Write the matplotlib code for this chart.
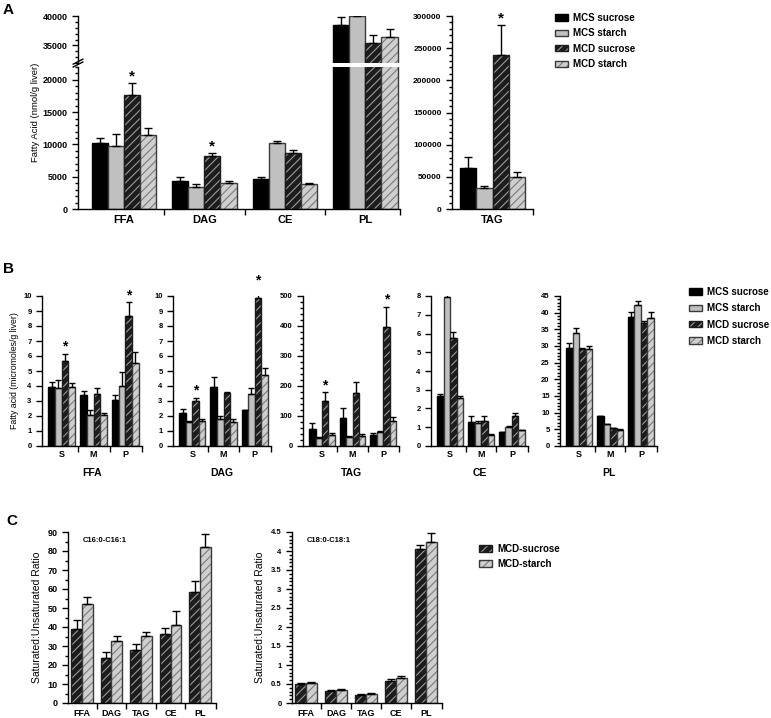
import numpy as np
import matplotlib
matplotlib.use('agg')
import matplotlib.pyplot as plt
from matplotlib.patches import Patch
from matplotlib.ticker import MultipleLocator

plt.rcParams['font.family'] = ['Liberation Sans', 'DejaVu Sans']
plt.rcParams['hatch.linewidth'] = 0.8

W, H = 771, 718

SERIES = ['MCS sucrose', 'MCS starch', 'MCD sucrose', 'MCD starch']
# face, hatch colour, hatch, outline
STYLE = [('#000000', '#000000', '', '#000000'),
         ('#c0c0c0', '#c0c0c0', '', '#3a3a3a'),
         ('#1c1c1c', '#9a9a9a', '////', '#1c1c1c'),
         ('#cfcfcf', '#7a7a7a', '////', '#3a3a3a')]

# ---- panel A: totals (nmol/g liver), rows = series
a_groups = ['FFA', 'DAG', 'CE', 'PL']
a_vals = [[10300, 4300, 4650, 38500],
          [9800, 3350, 10150, 40000],
          [17700, 8200, 8650, 35400],
          [11400, 4000, 3850, 36350]]
a_err = [[750, 600, 350, 1300],
         [1850, 550, 350, 1000],
         [1800, 450, 450, 1400],
         [1200, 300, 250, 1400]]
a_stars = [0, 1]
tag_vals = [63600, 32000, 240000, 49700]
tag_err = [17100, 3700, 45600, 7700]

# ---- panel B: S / M / P (micromoles/g liver)
b_cats = ['S', 'M', 'P']
b_ffa = [[3.96, 3.38, 3.04], [3.84, 2.04, 4.0], [5.67, 3.47, 8.67], [3.96, 2.04, 5.51]]
b_ffa_err = [[0.28, 0.26, 0.36], [0.56, 0.36, 0.91], [0.49, 0.37, 0.93], [0.26, 0.18, 0.76]]
b_dag = [[2.22, 3.96, 2.38], [1.58, 1.82, 3.49], [3.02, 3.51, 9.84], [1.67, 1.62, 4.73]]
b_dag_err = [[0.22, 0.62, 0.05], [0.11, 0.18, 0.35], [0.2, 0.09, 0.71], [0.11, 0.16, 0.45]]
b_tag = [[58, 94, 38], [28, 30, 45], [149, 178, 396], [35, 34, 84]]
b_tag_err = [[19, 31, 6], [3, 2, 4], [31, 36, 69], [7, 6, 13]]
b_ce = [[2.68, 1.27, 0.72], [7.95, 1.24, 1.02], [5.74, 1.32, 1.6], [2.54, 0.58, 0.83]]
b_ce_err = [[0.11, 0.32, 0.05], [0.28, 0.08, 0.04], [0.34, 0.27, 0.18], [0.14, 0.06, 0.04]]
b_pl = [[29.5, 9.0, 38.7], [34.0, 6.5, 42.2], [29.0, 5.3, 36.8], [29.2, 4.9, 38.5]]
b_pl_err = [[1.5, 0.1, 1.5], [1.3, 0.1, 1.4], [0.3, 0.1, 0.7], [0.8, 0.1, 1.8]]

# ---- panel C: saturated:unsaturated ratio, MCD only
c_groups = ['FFA', 'DAG', 'TAG', 'CE', 'PL']
c_series = ['MCD-sucrose', 'MCD-starch']
c16 = [[38.9, 23.7, 27.9, 36.1, 58.2], [52.3, 32.5, 35.3, 40.9, 81.9]]
c16_err = [[4.8, 3.3, 3.1, 3.2, 6.2], [3.7, 2.9, 2.2, 7.7, 6.9]]
c18 = [[0.5, 0.32, 0.21, 0.59, 4.06], [0.53, 0.34, 0.25, 0.66, 4.24]]
c18_err = [[0.03, 0.01, 0.03, 0.05, 0.11], [0.02, 0.02, 0.02, 0.06, 0.24]]


def px_box(x0, y0, x1, y1):
    return [x0 / W, 1 - y1 / H, (x1 - x0) / W, (y1 - y0) / H]


def style_axis(ax, fs):
    for s in ['top', 'right']:
        ax.spines[s].set_visible(False)
    ax.spines['left'].set_linewidth(1)
    ax.spines['bottom'].set_linewidth(1)
    ax.tick_params(which='both', direction='out', width=1, labelsize=fs)
    ax.tick_params(which='major', length=4)
    ax.tick_params(which='minor', length=2)


def set_yaxis(ax, top, step, minor, fs):
    ax.set_ylim(0, top)
    ticks = np.arange(0, top + step / 2, step)
    ax.set_yticks(ticks, ['%g' % t for t in ticks], fontsize=fs, fontweight='bold')
    if minor:
        ax.yaxis.set_minor_locator(MultipleLocator(minor))


def set_xaxis(ax, labels, xlim, fs, pad):
    n = len(labels)
    ax.set_xlim(*xlim)
    ax.set_xticks(np.arange(n), labels, fontsize=fs, fontweight='bold')
    ax.set_xticks(list(np.arange(n - 1) + 0.5) + [xlim[1]], minor=True)
    ax.xaxis.set_tick_params(which='major', length=0, pad=pad)
    ax.xaxis.set_tick_params(which='minor', length=4)


def bars(ax, x, vals, errs, st, width, cap):
    face, hcol, hatch, edge = st
    ax.bar(x, vals, width, color=face, edgecolor=hcol, hatch=hatch, linewidth=0)
    ax.bar(x, vals, width, fill=False, edgecolor=edge, linewidth=1)
    ax.errorbar(x, vals, yerr=[np.zeros(len(vals)), errs], fmt='none',
                ecolor='black', elinewidth=1, capsize=cap, capthick=1)


def star(ax, x, top, fs=11):
    ax.annotate('*', (x, top), xytext=(0, 0), textcoords='offset points',
                ha='center', va='bottom', fontsize=fs, fontweight='bold',
                annotation_clip=False)


def legend_handles(styles):
    hs = []
    for face, hcol, hatch, edge in styles:
        hs.append((Patch(facecolor=face, edgecolor=hcol, hatch=hatch, linewidth=0),
                   Patch(fill=False, edgecolor=edge, linewidth=1)))
    return hs


fig = plt.figure(figsize=(W / 100, H / 100), dpi=100)

# ================= A =================
fig.text(3 / W, 1 - 3 / H, 'A', fontsize=11, fontweight='bold', va='top')
ax_hi = fig.add_axes(px_box(78, 16, 400, 63))
ax_lo = fig.add_axes(px_box(78, 67, 400, 209))
bw = 0.2
offs = (np.arange(4) - 1.5) * bw
xa = np.arange(len(a_groups))
for ax in (ax_hi, ax_lo):
    style_axis(ax, 6.5)
    for i in range(4):
        bars(ax, xa + offs[i], a_vals[i], a_err[i], STYLE[i], bw, 3)
ax_hi.set_ylim(32000, 40000)
ax_hi.set_yticks([35000, 40000], ['35000', '40000'], fontsize=6.5, fontweight='bold')
ax_hi.yaxis.set_minor_locator(MultipleLocator(1000))
ax_hi.spines['bottom'].set_visible(False)
ax_hi.set_xlim(-0.57, 3.43)
ax_hi.tick_params(axis='x', which='both', bottom=False, labelbottom=False)
set_yaxis(ax_lo, 22000, 5000, 1000, 6.5)
ax_lo.set_yticks([0, 5000, 10000, 15000, 20000],
                 ['0', '5000', '10000', '15000', '20000'], fontsize=6.5, fontweight='bold')
set_xaxis(ax_lo, a_groups, (-0.57, 3.43), 8, 4)
for g in a_stars:
    star(ax_lo, xa[g] + offs[2], a_vals[2][g] + a_err[2][g])
# axis break marks on the y spine
ax_lo.plot([-0.015, 0.015], [1.0, 1.035], transform=ax_lo.transAxes, color='black',
           lw=1, clip_on=False)
ax_lo.plot([-0.015, 0.015], [1.02, 1.055], transform=ax_lo.transAxes, color='black',
           lw=1, clip_on=False)
fig.text(35 / W, 1 - 112 / H, 'Fatty Acid (nmol/g liver)', rotation=90,
         ha='center', va='center', fontsize=6.8)

ax_tag = fig.add_axes(px_box(452, 16, 533, 209))
style_axis(ax_tag, 6)
for i in range(4):
    bars(ax_tag, [offs[i]], [tag_vals[i]], [tag_err[i]], STYLE[i], bw, 3)
set_yaxis(ax_tag, 300000, 50000, 10000, 6)
set_xaxis(ax_tag, ['TAG'], (-0.5, 0.5), 8, 4)
star(ax_tag, offs[2], tag_vals[2] + tag_err[2])

fig.legend(legend_handles(STYLE), SERIES, loc='upper left',
           bbox_to_anchor=(555 / W, 1 - 13 / H), frameon=False, borderpad=0,
           borderaxespad=0, handlelength=1.3, handleheight=0.6,
           handletextpad=0.6, labelspacing=0.55,
           prop={'size': 7, 'weight': 'bold'})

# ================= B =================
fig.text(3 / W, 1 - 262 / H, 'B', fontsize=11, fontweight='bold', va='top')
b_panels = [('FFA', b_ffa, b_ffa_err, 10, 1, None, [0, 2], 42, 142),
            ('DAG', b_dag, b_dag_err, 10, 1, None, [0, 2], 173, 271),
            ('TAG', b_tag, b_tag_err, 500, 100, 20, [0, 2], 303, 399),
            ('CE', b_ce, b_ce_err, 8, 1, None, [], 431, 528),
            ('PL', b_pl, b_pl_err, 45, 5, 1, [], 560, 657)]
bw_b = 0.21
offs_b = (np.arange(4) - 1.5) * bw_b
xb = np.arange(len(b_cats))
for k, (name, vals, errs, top, step, minor, stars, x0, x1) in enumerate(b_panels):
    ax = fig.add_axes(px_box(x0, 296, x1, 446))
    style_axis(ax, 5.5)
    for i in range(4):
        bars(ax, xb + offs_b[i], vals[i], errs[i], STYLE[i], bw_b, 2.2)
    set_yaxis(ax, top, step, minor, 5.5)
    set_xaxis(ax, b_cats, (-0.62, 2.52), 6.5, 3)
    ax.set_xlabel(name, fontsize=7.5, fontweight='bold', labelpad=6)
    for g in stars:
        star(ax, xb[g] + offs_b[2], vals[2][g] + errs[2][g], 10)
    if k == 0:
        ax.set_ylabel('Fatty acid (micromoles/g liver)', fontsize=6.3, labelpad=3)

fig.legend(legend_handles(STYLE), SERIES, loc='upper left',
           bbox_to_anchor=(689 / W, 1 - 287 / H), frameon=False, borderpad=0,
           borderaxespad=0, handlelength=1.3, handleheight=0.6,
           handletextpad=0.6, labelspacing=0.65,
           prop={'size': 7, 'weight': 'bold'})

# ================= C =================
fig.text(6 / W, 1 - 514 / H, 'C', fontsize=11, fontweight='bold', va='top')
bw_c = 0.36
offs_c = np.array([-0.5, 0.5]) * bw_c
xc = np.arange(len(c_groups))
c_panels = [('C16:0-C16:1', c16, c16_err, 90, 10, 5, 6.5, 68, 216),
            ('C18:0-C18:1', c18, c18_err, 4.5, 0.5, 0.1, 5.5, 292, 442)]
for title, vals, errs, top, step, minor, fs, x0, x1 in c_panels:
    ax = fig.add_axes(px_box(x0, 532, x1, 703))
    style_axis(ax, fs)
    for i in range(2):
        bars(ax, xc + offs_c[i], vals[i], errs[i], STYLE[i + 2], bw_c, 3)
    set_yaxis(ax, top, step, minor, fs)
    set_xaxis(ax, c_groups, (-0.47, 4.54), 6.5, 4)
    ax.text(0.1, 0.95, title, transform=ax.transAxes, fontsize=5.5,
            fontweight='bold', va='center')
    ax.set_ylabel('Saturated:Unsaturated Ratio', fontsize=7.5, labelpad=4)

fig.legend(legend_handles(STYLE[2:]), c_series, loc='upper left',
           bbox_to_anchor=(479 / W, 1 - 544 / H), frameon=False, borderpad=0,
           borderaxespad=0, handlelength=1.3, handleheight=0.8,
           handletextpad=0.6, labelspacing=0.5,
           prop={'size': 7, 'weight': 'bold'})

fig.savefig('out.png', dpi=100)
